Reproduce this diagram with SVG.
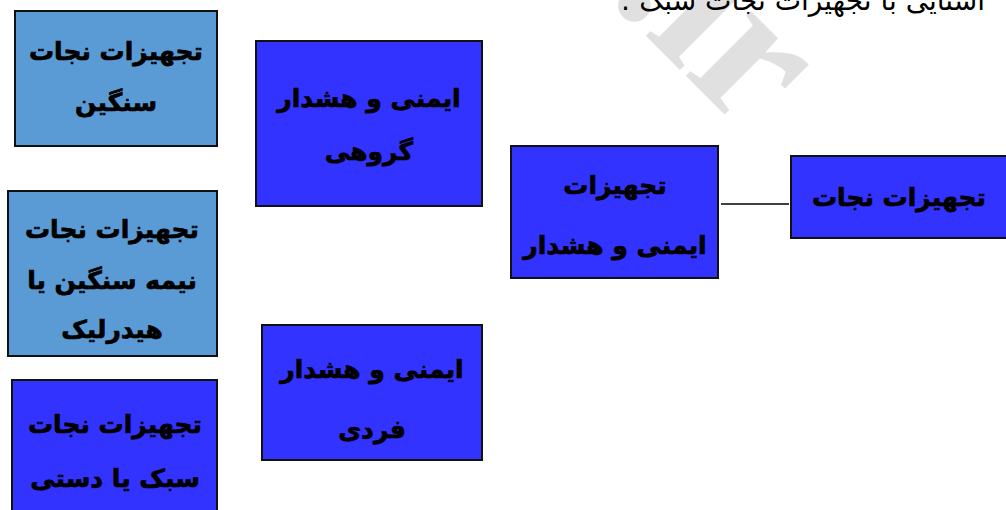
<svg xmlns="http://www.w3.org/2000/svg" width="1006" height="510" viewBox="0 0 1006 510">
<style>
.lb{fill:#5B9BD5;stroke:#111;stroke-width:2}
.db{fill:#3333FF;stroke:#111;stroke-width:2}
.t{font-family:"DejaVu Sans","Noto Sans",sans-serif;font-weight:bold;font-size:25px;fill:#000;stroke:#000;stroke-width:0.7;text-anchor:middle;direction:rtl}
.conn{stroke:#000;stroke-width:1.5;fill:none}
</style>
<rect width="1006" height="510" fill="#fff"/>
<text x="676" y="66" transform="rotate(45 676 66)" font-family="Liberation Serif,serif" font-weight="bold" font-size="200" fill="#e0e0e0" text-anchor="middle">.ir</text>
<text x="985" y="10" font-family="DejaVu Sans,sans-serif" font-size="28" fill="#000" text-anchor="start" direction="rtl">آشنایی با تجهیزات نجات سبک :</text>
<g id="connectors"><line class="conn" x1="721" y1="204" x2="789" y2="204"/></g>
<g id="n1"><rect class="lb" x="15" y="11" width="202" height="135"/><text class="t" x="116" y="60">تجهیزات نجات</text><text class="t" x="116" y="111">سنگین</text></g>
<g id="n2"><rect class="db" x="256" y="41" width="226" height="165"/><text class="t" x="369" y="107">ایمنی و هشدار</text><text class="t" x="369" y="160">گروهی</text></g>
<g id="n3"><rect class="lb" x="8" y="191" width="209" height="165"/><text class="t" x="112" y="238">تجهیزات نجات</text><text class="t" x="112" y="289">نیمه سنگین یا</text><text class="t" x="112" y="338">هیدرلیک</text></g>
<g id="n4"><rect class="db" x="12" y="380" width="205" height="140"/><text class="t" x="115" y="433">تجهیزات نجات</text><text class="t" x="115" y="487">سبک یا دستی</text></g>
<g id="n5"><rect class="db" x="262" y="325" width="220" height="135"/><text class="t" x="372" y="378">ایمنی و هشدار</text><text class="t" x="372" y="438">فردی</text></g>
<g id="n6"><rect class="db" x="511" y="146" width="207" height="132"/><text class="t" x="615" y="194">تجهیزات</text><text class="t" x="615" y="254">ایمنی و هشدار</text></g>
<g id="n7"><rect class="db" x="791" y="156" width="230" height="82"/><text class="t" x="899" y="206">تجهیزات نجات</text></g>
</svg>
